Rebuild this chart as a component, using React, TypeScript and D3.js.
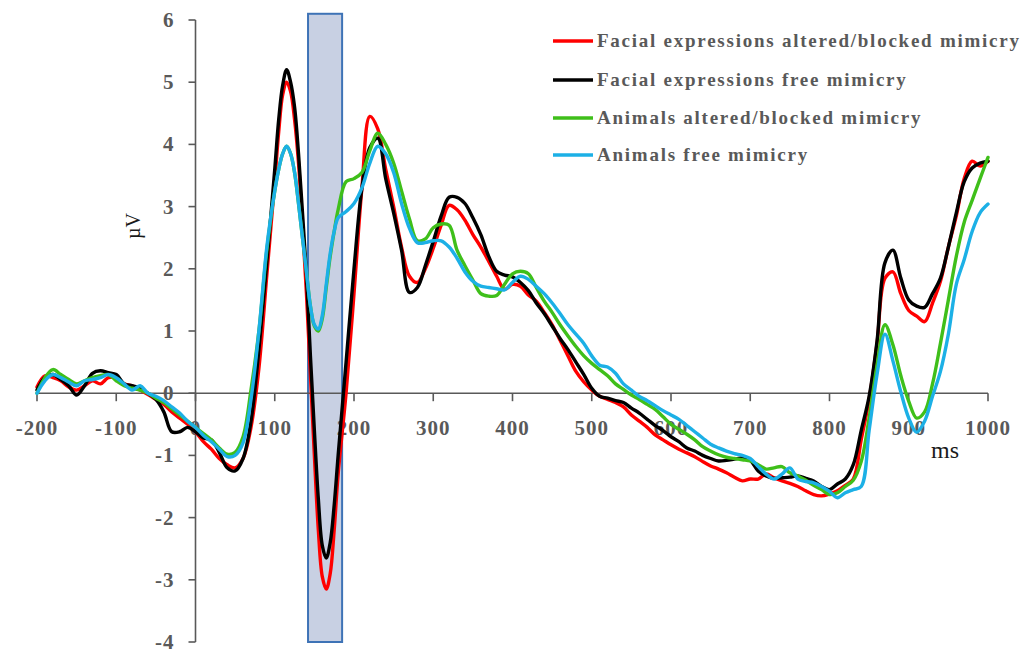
import React from "react";
import * as d3 from "d3";

// Time base (ms): 10 ms steps, 5 ms steps through the P1/N170 window
const timesMs: number[] = [
  ...d3.range(-200, 100, 10),
  ...d3.range(100, 180, 5),
  ...d3.range(180, 1001, 10),
];

// Grand-average ERP amplitudes (µV), one value per time point
const facialAltered: number[] = [
  0.1, 0.28, 0.25, 0.2, 0.1, 0.05, 0.12, 0.2, 0.15, 0.25,
  0.25, 0.15, 0.12, 0.05, -0.02, -0.1, -0.18, -0.3, -0.4, -0.5,
  -0.62, -0.78, -0.9, -1.05, -1.15, -1.2, -1.05, -0.55, 0.4, 1.9,
  3.4, 4.2, 4.8, 5.0, 4.85, 4.4, 3.7, 2.7, 1.6, 0.3, -1.0, -2.2, -2.95, -3.15, -2.9, -2.2,
  -1.3, 0.0, 1.6, 3.3, 4.45, 4.25, 3.6, 3.0, 2.35, 1.88,
  1.78, 2.0, 2.33, 2.7, 3.02, 2.95, 2.78, 2.55, 2.35, 2.12,
  1.88, 1.67, 1.75, 1.72, 1.58, 1.48, 1.3, 1.1, 0.85, 0.6,
  0.35, 0.18, 0.05, -0.05, -0.1, -0.15, -0.22, -0.35, -0.45, -0.55,
  -0.67, -0.75, -0.83, -0.9, -0.96, -1.02, -1.1, -1.17, -1.22, -1.28,
  -1.35, -1.41, -1.38, -1.38, -1.3, -1.36, -1.41, -1.45, -1.5, -1.57,
  -1.63, -1.65, -1.62, -1.57, -1.48, -1.38, -0.75, -0.1, 0.8, 1.85,
  1.95, 1.6, 1.33, 1.24, 1.15, 1.45, 1.8, 2.35, 2.85, 3.45,
  3.73, 3.65, 3.73,
];

const facialFree: number[] = [
  0.05, 0.25, 0.3, 0.22, 0.12, -0.03, 0.12, 0.32, 0.36, 0.33,
  0.3, 0.15, 0.12, 0.08, 0.0, -0.1, -0.3, -0.62, -0.62, -0.55,
  -0.62, -0.72, -0.75, -0.95, -1.2, -1.25, -1.05, -0.45, 0.7, 2.1,
  3.6, 4.4, 4.95, 5.2, 5.0, 4.6, 3.85, 2.9, 1.9, 0.6, -0.6, -1.7, -2.45, -2.65, -2.4, -1.8,
  -1.0, 0.5, 2.0, 3.3, 3.95, 4.1, 3.45, 2.9, 2.3, 1.62,
  1.7, 2.05, 2.44, 2.85, 3.15, 3.15, 3.05, 2.82, 2.55, 2.2,
  1.96, 1.9, 1.87, 1.78, 1.65, 1.45, 1.28, 1.08, 0.88, 0.7,
  0.5, 0.3, 0.08, -0.05, -0.08, -0.12, -0.15, -0.24, -0.32, -0.42,
  -0.52, -0.6, -0.7, -0.78, -0.88, -0.93, -1.0, -1.05, -1.09, -1.08,
  -1.06, -1.04, -1.08, -1.25, -1.33, -1.37, -1.36, -1.35, -1.33, -1.37,
  -1.41, -1.5, -1.55, -1.46, -1.38, -1.15, -0.6, -0.05, 0.84, 2.1,
  2.3, 1.85, 1.5, 1.4, 1.38, 1.6, 1.85, 2.35, 2.9, 3.4,
  3.62, 3.7, 3.73,
];

const animalsAltered: number[] = [
  0.0, 0.25, 0.38, 0.3, 0.22, 0.15, 0.2, 0.25, 0.28, 0.3,
  0.2, 0.12, 0.08, 0.05, 0.0, -0.08, -0.15, -0.25, -0.35, -0.45,
  -0.55, -0.65, -0.75, -0.88, -0.98, -0.95, -0.7, 0.05, 1.0, 2.3,
  3.25, 3.6, 3.85, 3.97, 3.85, 3.55, 3.05, 2.5, 1.95, 1.4, 1.08, 1.0, 1.2, 1.7, 2.2, 2.6,
  2.95, 3.4, 3.45, 3.55, 3.9, 4.18, 4.0, 3.7, 3.25, 2.8,
  2.45, 2.48, 2.66, 2.72, 2.7, 2.3, 2.05, 1.82, 1.6, 1.56,
  1.57, 1.75, 1.92, 1.96, 1.92, 1.7, 1.48, 1.3, 1.1, 0.92,
  0.75, 0.6, 0.48, 0.38, 0.28, 0.15, 0.06, -0.03, -0.1, -0.18,
  -0.26, -0.38, -0.5, -0.58, -0.66, -0.75, -0.86, -0.93, -0.99, -1.03,
  -1.05, -1.07, -1.09, -1.15, -1.22, -1.2, -1.18, -1.28, -1.33, -1.4,
  -1.48, -1.55, -1.63, -1.6, -1.5, -1.4, -1.1, -0.4, 0.45, 1.1,
  0.78, 0.28, -0.13, -0.4, -0.3, 0.15, 0.8, 1.5, 2.2, 2.75,
  3.1, 3.45, 3.79,
];

const animalsFree: number[] = [
  0.0, 0.2, 0.3, 0.25, 0.18, 0.12, 0.2, 0.22, 0.25, 0.3,
  0.25, 0.15, 0.05, 0.12, 0.0, -0.05, -0.12, -0.22, -0.32, -0.45,
  -0.55, -0.68, -0.78, -0.9, -1.02, -1.0, -0.8, -0.1, 1.0, 2.35,
  3.25, 3.6, 3.85, 3.97, 3.85, 3.55, 3.05, 2.5, 1.95, 1.4, 1.1, 1.03, 1.25, 1.75, 2.25, 2.6,
  2.82, 2.92, 3.05, 3.3, 3.7, 3.97, 3.85, 3.55, 3.05, 2.65,
  2.42, 2.42, 2.45, 2.45, 2.35, 2.17, 1.95, 1.8, 1.72, 1.7,
  1.68, 1.66, 1.78, 1.88, 1.83, 1.72, 1.6, 1.45, 1.28, 1.1,
  0.95, 0.8, 0.6, 0.45, 0.42, 0.32, 0.15, 0.05, -0.05, -0.12,
  -0.2, -0.28, -0.35, -0.42, -0.52, -0.62, -0.72, -0.82, -0.88, -0.93,
  -0.97, -1.0, -1.05, -1.18, -1.3, -1.38, -1.3, -1.2, -1.38, -1.42,
  -1.44, -1.5, -1.58, -1.68, -1.6, -1.55, -1.5, -0.6, 0.3, 0.95,
  0.52, 0.02, -0.4, -0.63, -0.45, -0.05, 0.35, 0.95, 1.75, 2.15,
  2.6, 2.9, 3.04,
];

const seriesNames = [
  "Facial expressions altered/blocked mimicry",
  "Facial expressions free mimicry",
  "Animals altered/blocked mimicry",
  "Animals free mimicry",
];
const seriesColors = ["#ff0000", "#000000", "#3fbf1a", "#1cb0e6"];
const seriesValues = [facialAltered, facialFree, animalsAltered, animalsFree];

const xTicks = [-200, -100, 0, 100, 200, 300, 400, 500, 600, 700, 800, 900, 1000];
const yTicks = [-4, -3, -2, -1, 0, 1, 2, 3, 4, 5, 6];

// Shaded analysis window (ms) spanning the full amplitude range
const windowMs = [142, 185];
const windowUv = [-4, 6.1];

const W = 1022;
const H = 650;
const axisColor = "#595959";
const labelFont = "'Liberation Serif', 'Times New Roman', serif";

export default function App() {
  const x = d3.scaleLinear().domain([-200, 1000]).range([37, 988]);
  const y = d3.scaleLinear().domain([-4, 6]).range([642, 20]);

  const line = d3
    .line<number>()
    .x((_, i) => x(timesMs[i]))
    .y((v) => y(v))
    .curve(d3.curveCatmullRom.alpha(0.5));

  const x0 = x(0);
  const y0 = y(0);

  return (
    <svg
      width={W}
      height={H}
      style={{ position: "absolute", left: 0, top: 0, background: "#fff" }}
      fontFamily={labelFont}
    >
      {/* shaded window */}
      <rect
        x={x(windowMs[0])}
        y={y(windowUv[1])}
        width={x(windowMs[1]) - x(windowMs[0])}
        height={y(windowUv[0]) - y(windowUv[1])}
        fill="#c8d0e3"
        stroke="#3e73b6"
        strokeWidth={2}
      />

      {/* x axis along 0 µV */}
      <line x1={x(-200)} x2={x(1000)} y1={y0} y2={y0} stroke={axisColor} strokeWidth={1.6} />
      {xTicks.map((t) => (
        <g key={`xt${t}`}>
          <line x1={x(t)} x2={x(t)} y1={y0} y2={y0 + 8} stroke={axisColor} strokeWidth={1.6} />
          <text
            x={x(t)}
            y={y0 + 42}
            textAnchor="middle"
            fontSize={21}
            fontWeight="bold"
            letterSpacing={1}
            fill={axisColor}
          >
            {t}
          </text>
        </g>
      ))}

      {/* y axis at 0 ms */}
      <line x1={x0} x2={x0} y1={y(6)} y2={y(-4)} stroke={axisColor} strokeWidth={1.6} />
      {yTicks.map((t) => (
        <g key={`yt${t}`}>
          <line x1={x0 - 7} x2={x0} y1={y(t)} y2={y(t)} stroke={axisColor} strokeWidth={1.6} />
          <text
            x={x0 - 21}
            y={y(t) + 7}
            textAnchor="end"
            fontSize={21}
            fontWeight="bold"
            letterSpacing={1}
            fill={axisColor}
          >
            {t}
          </text>
        </g>
      ))}

      {/* axis titles */}
      <text x={931} y={458} fontSize={24} fill="#1a1a1a">
        ms
      </text>
      <text
        transform={`translate(140, 226) rotate(-90)`}
        textAnchor="middle"
        fontSize={20}
        fill="#1a1a1a"
      >
        µV
      </text>

      {/* waveforms */}
      {seriesValues.map((vals, i) => (
        <path
          key={seriesNames[i]}
          d={line(vals) ?? ""}
          fill="none"
          stroke={seriesColors[i]}
          strokeWidth={3.4}
          strokeLinejoin="round"
          strokeLinecap="round"
        />
      ))}

      {/* legend */}
      {seriesNames.map((name, i) => {
        const ly = [41, 80, 118, 155][i];
        return (
          <g key={`lg${i}`}>
            <line x1={553} x2={593} y1={ly} y2={ly} stroke={seriesColors[i]} strokeWidth={3.5} />
            <text
              x={597}
              y={ly + 6}
              fontSize={19}
              fontWeight="bold"
              letterSpacing={1.75}
              fill={axisColor}
            >
              {name}
            </text>
          </g>
        );
      })}
    </svg>
  );
}
